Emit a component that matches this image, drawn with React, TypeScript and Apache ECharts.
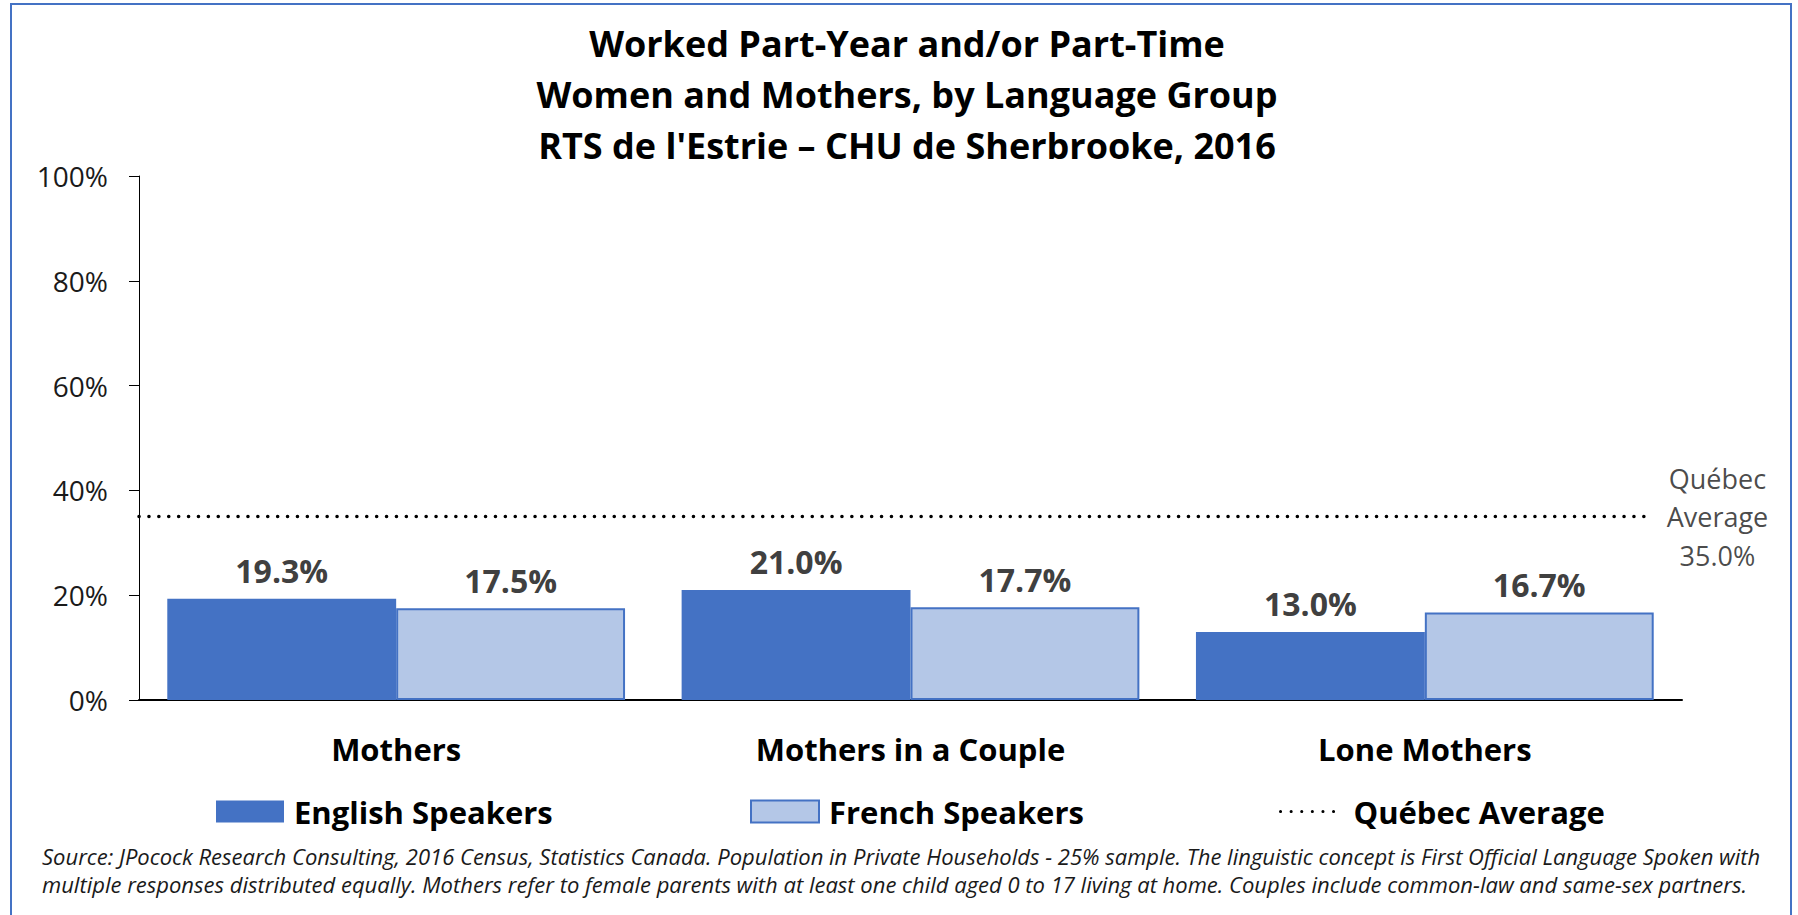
import React, { useEffect, useRef } from 'react';
import * as echarts from 'echarts';

const CATEGORIES = ['Mothers', 'Mothers in a Couple', 'Lone Mothers'];
const ENGLISH = [19.3, 21.0, 13.0];
const FRENCH = [17.5, 17.7, 16.7];
const QUEBEC_AVG = 35.0;
const QUEBEC_SPAN = [0, 0.976];
const Y_MIN = 0;
const Y_MAX = 100;
const Y_STEP = 20;
const TITLE_LINES = [
  'Worked Part-Year and/or Part-Time',
  'Women and Mothers, by Language Group',
  "RTS de l'Estrie – CHU de Sherbrooke, 2016",
];
const FOOTNOTE_LINES = [
  'Source: JPocock Research Consulting, 2016 Census, Statistics Canada. Population in Private Households - 25% sample. The linguistic concept is First Official Language Spoken with',
  'multiple responses distributed equally. Mothers refer to female parents with at least one child aged 0 to 17 living at home. Couples include common-law and same-sex partners.',
];
const SERIES_NAMES = ['English Speakers', 'French Speakers', 'Québec Average'];

const FONT = '"Open Sans", "Noto Sans", sans-serif';
const BLUE = '#4472C4';
const LIGHT = '#B4C7E7';

export default function App() {
  const ref = useRef<HTMLDivElement>(null);

  useEffect(() => {
    const chart = echarts.init(ref.current!, null, { renderer: 'svg' });
    const dataLabel = {
      show: true,
      position: 'top',
      distance: 12,
      fontFamily: FONT,
      fontWeight: 'bold',
      fontSize: 32,
      color: '#404040',
      formatter: (p: any) => `${Number(p.value).toFixed(1)}%`,
    };
    const textStyle = {
      fontFamily: FONT,
      fontWeight: 'bold',
      fontSize: 31,
      color: '#000',
      padding: [0, 0, 0, 5],
    };
    const barLegend = (left: number, name: string) => ({
      left,
      top: 796,
      padding: 0,
      itemWidth: 68,
      itemHeight: 22,
      icon: 'rect',
      data: [name],
      selectedMode: false,
      textStyle,
    });
    const avgLegend = (left: number, name: string) => ({
      left,
      top: 796,
      padding: 0,
      itemWidth: 63,
      itemHeight: 22,
      data: [name],
      selectedMode: false,
      itemStyle: { opacity: 0 },
      lineStyle: { color: '#000', width: 3, type: [0.1, 10.5], cap: 'round', opacity: 1 },
      textStyle,
    });
    chart.setOption({
      animation: false,
      backgroundColor: '#fff',
      title: {
        text: TITLE_LINES.join('\n'),
        left: 902,
        top: 13,
        textAlign: 'center',
        textStyle: {
          fontFamily: FONT,
          fontWeight: 'bold',
          fontSize: 36,
          lineHeight: 51,
          color: '#000',
        },
      },
      legend: [
        barLegend(216, SERIES_NAMES[0]),
        barLegend(750, SERIES_NAMES[1]),
        avgLegend(1279, SERIES_NAMES[2]),
      ],
      grid: { left: 139, right: 116, top: 176, bottom: 215, containLabel: false },
      xAxis: [
        {
          type: 'category',
          data: CATEGORIES,
          axisLine: { lineStyle: { color: '#000', width: 2 } },
          axisTick: { show: false },
          axisLabel: {
            margin: 33,
            fontFamily: FONT,
            fontWeight: 'bold',
            fontSize: 31,
            color: '#000',
          },
        },
        { type: 'value', min: 0, max: 1, show: false },
      ],
      yAxis: {
        type: 'value',
        min: Y_MIN,
        max: Y_MAX,
        interval: Y_STEP,
        axisLine: { show: true, lineStyle: { color: '#000', width: 1 } },
        axisTick: { show: true, length: 10, lineStyle: { color: '#000' } },
        splitLine: { show: false },
        axisLabel: {
          margin: 31,
          fontFamily: FONT,
          fontSize: 28,
          color: '#1a1a1a',
          formatter: '{value}%',
        },
      },
      graphic: [
        {
          type: 'rect',
          shape: { x: 11, y: 4, width: 1780, height: 940 },
          style: { fill: 'none', stroke: BLUE, lineWidth: 2 },
          silent: true,
        },
        ...FOOTNOTE_LINES.map((t, i) => ({
          type: 'text',
          left: 42,
          top: 845 + i * 28,
          style: {
            text: t,
            fontFamily: FONT,
            fontStyle: 'italic',
            fontSize: 22,
            fill: '#1a1a1a',
          },
          silent: true,
        })),
      ],
      series: [
        {
          name: SERIES_NAMES[0],
          type: 'bar',
          data: ENGLISH,
          barGap: '0%',
          barCategoryGap: '11%',
          itemStyle: { color: BLUE },
          label: dataLabel,
        },
        {
          name: SERIES_NAMES[1],
          type: 'bar',
          data: FRENCH,
          itemStyle: { color: LIGHT, borderColor: BLUE, borderWidth: 2 },
          label: dataLabel,
        },
        {
          name: SERIES_NAMES[2],
          type: 'line',
          xAxisIndex: 1,
          data: QUEBEC_SPAN.map((x) => [x, QUEBEC_AVG]),
          symbol: 'none',
          silent: true,
          lineStyle: { color: '#000', width: 3.5, type: [0.1, 9.8], cap: 'round' },
          itemStyle: { color: '#000' },
        },
        {
          name: 'Québec Average label',
          type: 'scatter',
          xAxisIndex: 1,
          data: [[QUEBEC_SPAN[1], QUEBEC_AVG]],
          symbolSize: 1,
          itemStyle: { color: 'rgba(0,0,0,0)' },
          silent: true,
          label: {
            show: true,
            position: 'right',
            distance: 72,
            align: 'center',
            verticalAlign: 'middle',
            fontFamily: FONT,
            fontSize: 27,
            lineHeight: 38.5,
            color: '#1a1a1a',
            formatter: () => `Québec\nAverage\n${QUEBEC_AVG.toFixed(1)}%`,
          },
        },
      ],
    });
    return () => chart.dispose();
  }, []);

  return (
    <div
      ref={ref}
      style={{ position: 'fixed', left: 0, top: 0, width: 1798, height: 915, background: '#fff' }}
    />
  );
}
